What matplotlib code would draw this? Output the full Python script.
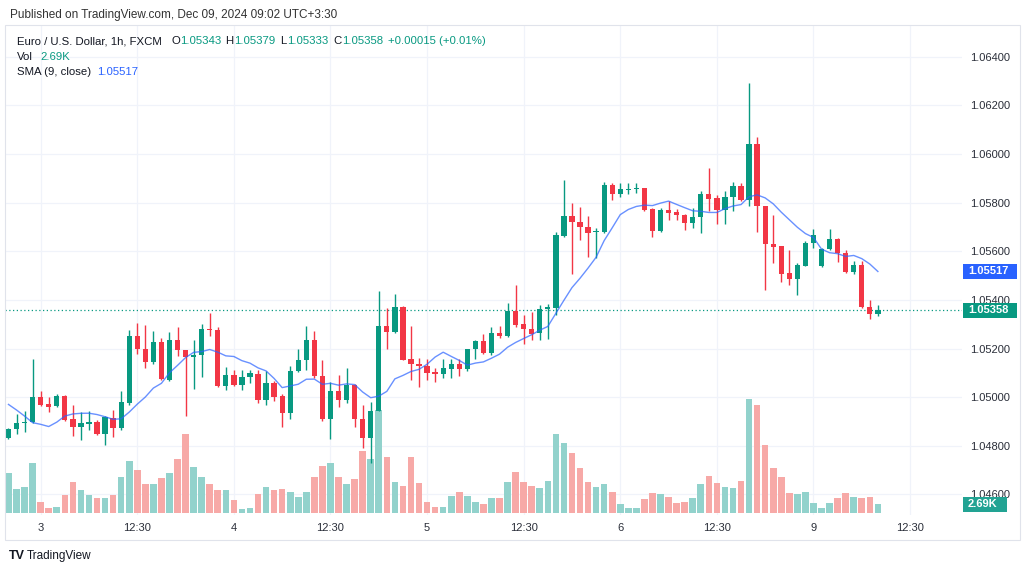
import numpy as np
import pandas as pd
import matplotlib
matplotlib.use("Agg")
import matplotlib.pyplot as plt
from matplotlib.patches import Rectangle
import matplotlib.transforms as mtrans

plt.rcParams['font.family'] = ['Liberation Sans', 'DejaVu Sans']

# ---------------- data (EUR/USD 1h, FXCM) ----------------
opens = [1.04833, 1.04870, 1.04893, 1.04898, 1.04999, 1.04972, 1.04962, 1.05005, 1.04908, 1.04879,
         1.04889, 1.04897, 1.04848, 1.04915, 1.04875, 1.04976, 1.05253, 1.05198, 1.05143, 1.05226,
         1.05070, 1.05237, 1.05195, 1.05164, 1.05172, 1.05281, 1.05278, 1.05045, 1.05089, 1.05049,
         1.05083, 1.05097, 1.04990, 1.05059, 1.05004, 1.04936, 1.05106, 1.05153, 1.05234, 1.05086,
         1.04908, 1.05027, 1.04988, 1.05048, 1.04911, 1.04830, 1.04942, 1.05291, 1.05266, 1.05371,
         1.05157, 1.05136, 1.05127, 1.05103, 1.05097, 1.05117, 1.05136, 1.05117, 1.05196, 1.05230,
         1.05180, 1.05264, 1.05250, 1.05353, 1.05301, 1.05282, 1.05262, 1.05362, 1.05366, 1.05661,
         1.05747, 1.05720, 1.05701, 1.05678, 1.05679, 1.05874, 1.05837, 1.05853, 1.05856, 1.05860,
         1.05774, 1.05682, 1.05768, 1.05760, 1.05751, 1.05717, 1.05741, 1.05836, 1.05819, 1.05768,
         1.05822, 1.05867, 1.05809, 1.06042, 1.05785, 1.05630, 1.05621, 1.05511, 1.05488, 1.05540,
         1.05634, 1.05540, 1.05611, 1.05652, 1.05593, 1.05515, 1.05545, 1.05370, 1.05343]
highs = [1.04875, 1.04931, 1.04942, 1.05158, 1.05027, 1.05001, 1.05013, 1.05008, 1.04968, 1.04938,
         1.04941, 1.04907, 1.04921, 1.04949, 1.05027, 1.05278, 1.05305, 1.05298, 1.05271, 1.05244,
         1.05267, 1.05289, 1.05195, 1.05237, 1.05301, 1.05346, 1.05287, 1.05125, 1.05113, 1.05113,
         1.05113, 1.05113, 1.05107, 1.05066, 1.05011, 1.05130, 1.05196, 1.05291, 1.05271, 1.05151,
         1.05061, 1.05090, 1.05120, 1.05052, 1.04969, 1.04981, 1.05438, 1.05367, 1.05424, 1.05376,
         1.05291, 1.05161, 1.05155, 1.05121, 1.05155, 1.05155, 1.05158, 1.05200, 1.05234, 1.05258,
         1.05289, 1.05294, 1.05387, 1.05463, 1.05339, 1.05349, 1.05381, 1.05385, 1.05679, 1.05895,
         1.05800, 1.05781, 1.05744, 1.05697, 1.05884, 1.05881, 1.05881, 1.05879, 1.05879, 1.05862,
         1.05778, 1.05778, 1.05806, 1.05774, 1.05754, 1.05778, 1.05846, 1.05943, 1.05833, 1.05846,
         1.05884, 1.05882, 1.06294, 1.06069, 1.05785, 1.05751, 1.05621, 1.05606, 1.05553, 1.05641,
         1.05691, 1.05614, 1.05691, 1.05655, 1.05607, 1.05559, 1.05559, 1.05401, 1.05379]
lows = [1.04828, 1.04850, 1.04856, 1.04894, 1.04962, 1.04937, 1.04960, 1.04901, 1.04840, 1.04823,
        1.04865, 1.04844, 1.04803, 1.04835, 1.04863, 1.04969, 1.05178, 1.05120, 1.05137, 1.05069,
        1.05066, 1.05171, 1.04921, 1.05035, 1.05083, 1.05250, 1.05043, 1.05029, 1.05046, 1.05031,
        1.05059, 1.04974, 1.04968, 1.04984, 1.04878, 1.04911, 1.05102, 1.05112, 1.05077, 1.04901,
        1.04829, 1.04961, 1.04974, 1.04878, 1.04789, 1.04728, 1.04942, 1.05199, 1.05263, 1.05151,
        1.05069, 1.05040, 1.05069, 1.05062, 1.05079, 1.05079, 1.05086, 1.05106, 1.05157, 1.05176,
        1.05173, 1.05244, 1.05247, 1.05289, 1.05217, 1.05237, 1.05237, 1.05240, 1.05339, 1.05660,
        1.05507, 1.05648, 1.05576, 1.05574, 1.05677, 1.05812, 1.05823, 1.05835, 1.05839, 1.05764,
        1.05658, 1.05680, 1.05727, 1.05730, 1.05689, 1.05697, 1.05676, 1.05764, 1.05714, 1.05714,
        1.05764, 1.05806, 1.05788, 1.05678, 1.05440, 1.05550, 1.05473, 1.05462, 1.05419, 1.05538,
        1.05614, 1.05536, 1.05607, 1.05555, 1.05511, 1.05505, 1.05367, 1.05322, 1.05333]
closes = [1.04870, 1.04894, 1.04897, 1.04999, 1.04969, 1.04960, 1.05005, 1.04904, 1.04879, 1.04894,
          1.04897, 1.04848, 1.04917, 1.04875, 1.04978, 1.05253, 1.05198, 1.05143, 1.05226, 1.05073,
          1.05237, 1.05192, 1.05164, 1.05172, 1.05281, 1.05275, 1.05045, 1.05089, 1.05049, 1.05083,
          1.05100, 1.04990, 1.05059, 1.05001, 1.04936, 1.05106, 1.05153, 1.05234, 1.05088, 1.04908,
          1.05027, 1.04990, 1.05048, 1.04911, 1.04830, 1.04942, 1.05291, 1.05266, 1.05371, 1.05154,
          1.05136, 1.05127, 1.05100, 1.05097, 1.05121, 1.05136, 1.05117, 1.05196, 1.05230, 1.05180,
          1.05264, 1.05250, 1.05353, 1.05298, 1.05282, 1.05258, 1.05363, 1.05369, 1.05665, 1.05747,
          1.05720, 1.05699, 1.05676, 1.05683, 1.05874, 1.05837, 1.05856, 1.05856, 1.05860, 1.05768,
          1.05682, 1.05768, 1.05757, 1.05751, 1.05717, 1.05741, 1.05837, 1.05817, 1.05768, 1.05822,
          1.05867, 1.05810, 1.06042, 1.05785, 1.05628, 1.05618, 1.05508, 1.05488, 1.05543, 1.05634,
          1.05665, 1.05611, 1.05652, 1.05593, 1.05515, 1.05545, 1.05370, 1.05343, 1.05358]
volumes_k = [12.7, 7.8, 8.2, 16.0, 3.6, 1.4, 1.9, 5.7, 9.8, 7.4,
             5.7, 4.9, 4.9, 5.7, 11.7, 16.8, 13.8, 9.3, 9.3, 11.1,
             13.0, 17.3, 25.5, 14.7, 11.7, 9.3, 7.4, 7.4, 4.1, 1.1,
             1.6, 6.1, 8.2, 7.4, 7.7, 6.7, 5.2, 6.7, 11.7, 15.1,
             16.0, 11.4, 9.3, 10.8, 20.1, 17.3, 33.3, 17.9, 9.8, 8.7,
             18.1, 9.5, 3.6, 1.7, 1.7, 5.4, 6.8, 5.4, 3.6, 2.8,
             4.6, 4.6, 9.8, 13.3, 10.0, 8.7, 7.9, 10.4, 25.5, 22.7,
             19.2, 14.4, 10.0, 8.2, 9.2, 6.8, 2.7, 1.4, 1.6, 4.4,
             6.4, 6.1, 5.2, 3.2, 3.6, 4.6, 9.2, 11.9, 9.5, 8.2,
             7.9, 10.3, 36.9, 34.8, 21.9, 14.5, 11.7, 6.5, 6.0, 6.6,
             3.0, 1.4, 3.2, 4.9, 6.5, 5.2, 4.9, 5.2, 2.69]
# SMA(9) values of the first 8 bars (they depend on bars before the visible window)
sma_head = [1.04970, 1.04947, 1.04922, 1.04895, 1.04888, 1.04879, 1.04897, 1.04922]
tick_bars = [4, 16, 28, 40, 52, 64, 76, 88, 100, 112]
tick_labels = ['3', '12:30', '4', '12:30', '5', '12:30', '6', '12:30', '9', '12:30']
price_ticks = [1.046, 1.048, 1.050, 1.052, 1.054, 1.056, 1.058, 1.060, 1.062, 1.064]

# ---------------- style ----------------
UP, DOWN = '#089981', '#f23645'
VUP, VDOWN = '#92d2cc', '#f7a9a7'
SMA_C = '#2962ff'
TXT = '#131722'
GRID = '#f0f3fa'

W, H = 1030, 574
fig = plt.figure(figsize=(W / 100, H / 100), dpi=100)
fig.patch.set_facecolor('white')


def fx(px):
    return px / W


def fy(py):
    return 1 - py / H


rect = [fx(5), fy(515), 957 / W, 490 / H]
axv = fig.add_axes(rect)
ax = fig.add_axes(rect, sharex=axv)
ax.patch.set_visible(False)

o = np.array(opens); h = np.array(highs); l = np.array(lows); c = np.array(closes)
v = np.array(volumes_k)
idx = np.arange(len(c))
up = c >= o

ax.set_xlim(-0.43, 118.45)
ax.set_ylim(1.04515, 1.06531)
axv.set_ylim(-0.744, 157.8)

# grid (on the volume axes, behind everything)
gtrans = mtrans.blended_transform_factory(axv.transAxes, ax.transData)
for p in price_ticks:
    axv.plot([0, 1], [p, p], transform=gtrans, color=GRID, lw=0.9, zorder=0)
for t in tick_bars:
    axv.axvline(t, color=GRID, lw=0.9, zorder=0)

# volume
axv.bar(idx, v, width=0.82, color=np.where(up, VUP, VDOWN), zorder=2, linewidth=0)
axv.axis('off')

# candles
ccol = np.where(up, UP, DOWN)
ax.vlines(idx, l, h, colors=ccol, lw=1.0, zorder=3)
body_lo = np.minimum(o, c)
body_h = np.maximum(np.abs(c - o), 0.00003)
ax.bar(idx, body_h, bottom=body_lo, width=0.66, color=ccol, zorder=4, linewidth=0)

# SMA 9
sma = pd.Series(closes).rolling(9).mean().to_numpy()
sma[:8] = sma_head
ax.plot(idx, sma, color=SMA_C, lw=1.0, alpha=0.7, zorder=5)

# last price line
ax.axhline(c[-1], color=UP, lw=0.9, ls=(0, (1, 2)), zorder=2)

# axes styling
for a in (ax, axv):
    for s in a.spines.values():
        s.set_visible(False)
ax.yaxis.tick_right()
ax.set_yticks(price_ticks)
ax.set_yticklabels([f'{p:.5f}' for p in price_ticks])
ax.set_xticks(tick_bars)
ax.set_xticklabels(tick_labels)
ax.tick_params(axis='y', length=0, pad=6, labelsize=8, labelcolor='#2a2e39')
ax.tick_params(axis='x', length=0, pad=6, labelsize=8, labelcolor='#2a2e39')

# outer widget border
fig.add_artist(Rectangle((fx(5), fy(540)), 1015 / W, 515 / H, transform=fig.transFigure,
                         fill=False, ec='#e0e3eb', lw=0.8, zorder=1))


# price scale boxes
def scale_box(ydisp, text, fc, width):
    fig.add_artist(Rectangle((fx(963), (ydisp - 7.5) / H), width / W, 15 / H,
                             transform=fig.transFigure, fc=fc, ec='none', zorder=10))
    fig.text(fx(968), ydisp / H, text, color='white', fontsize=8, fontweight='bold',
             va='center', ha='left', zorder=11)


scale_box(ax.transData.transform((0, sma[-1]))[1], f'{sma[-1]:.5f}', SMA_C, 54)
scale_box(ax.transData.transform((0, c[-1]))[1], f'{c[-1]:.5f}', UP, 54)
scale_box(axv.transData.transform((0, v[-1]))[1], f'{v[-1]:.2f}K', '#22a393', 44)

# header texts
renderer = fig.canvas.get_renderer()


def seq(x, y, parts, size=8.2):
    for s, col in parts:
        t = fig.text(fx(x), fy(y), s, color=col, fontsize=size, va='center', ha='left', zorder=12)
        bb = t.get_window_extent(renderer)
        x = bb.x1 + 0.5


fig.text(fx(10), fy(15), 'Published on TradingView.com, Dec 09, 2024 09:02 UTC+3:30',
         color='#333333', fontsize=8.5, va='center', ha='left')

chg = c[-1] - c[-2]
pct = chg / c[-2] * 100
seq(17, 41, [('Euro / U.S. Dollar, 1h, FXCM', TXT)])
seq(171, 41, [('O', TXT), (f'{o[-1]:.5f}', UP)])
seq(225, 41, [('H', TXT), (f'{h[-1]:.5f}', UP)])
seq(280, 41, [('L', TXT), (f'{l[-1]:.5f}', UP)])
seq(333, 41, [('C', TXT), (f'{c[-1]:.5f}', UP)])
seq(388, 41, [(f'{chg:+.5f} ({pct:+.2f}%)', UP)])
seq(17, 57, [('Vol', TXT)])
seq(40, 57, [(f'{v[-1]:.2f}K', UP)])
seq(17, 72, [('SMA (9, close)', TXT)])
seq(97, 72, [(f'{sma[-1]:.5f}', SMA_C)])

# footer logo
fig.text(fx(9), fy(556), 'TV', color=TXT, fontsize=9, fontweight='bold', va='center', ha='left')
fig.text(fx(27), fy(556), 'TradingView', color=TXT, fontsize=8.5, va='center', ha='left')

fig.savefig('out.png', dpi=100, facecolor='white')
